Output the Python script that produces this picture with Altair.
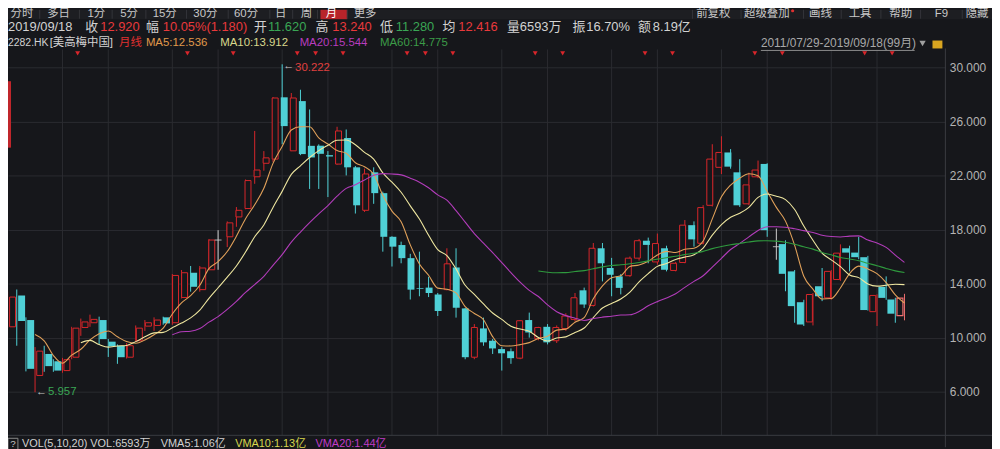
import altair as alt
import pandas as pd

BG = "#16171b"
RED = "#d9262b"
CYAN = "#4fd0d6"
GRAY = "#cfcfcf"
PINK = "#f07070"
GRID = "#2a2c31"
WHITE = "#d2d2d2"
TRED = "#e8393b"
TGREEN = "#3aa655"
FONT = "Liberation Sans, Noto Sans CJK SC"

# ---------------- data (monthly candles, 2282.HK) ----------------
opens = [10.8, 13.12, 11.3, 7.2, 8.79, 8.25, 7.56, 8.55, 10.75, 11.1,
         11.3, 9.7, 9.4, 8.55, 9.77, 10.85, 10.9, 11.5, 11.1, 12.97,
         14.8, 13.55, 15.02, 17.22, 17.46, 18.93, 19.55, 21.9, 22.9, 23.21,
         27.78, 23.82, 27.5, 24.19, 24.2, 23.5, 22.84, 24.77, 22.6, 19.42,
         22.23, 20.69, 17.46, 16.85, 15.88, 13.65, 13.7, 13.19, 13.55, 15.19,
         12.16, 8.55, 10.68, 9.77, 9.15, 8.99, 8.48, 11.3, 9.94, 10.8,
         9.77, 10.67, 11.35, 13.5, 12.38, 16.61, 15.15, 14.53, 14.58, 15.88,
         17.17, 15.6, 16.61, 14.97, 15.56, 18.32, 16.98, 19.79, 22.6, 23.7,
         22.23, 19.9, 21.9, 22.85, 16.73, 16.92, 14.9, 12.62, 11.16, 13.8,
         12.94, 14.3, 16.61, 16.29, 15.95, 11.92, 13.75, 12.82, 11.62]
highs = [13.4, 13.56, 11.5, 9.3, 9.4, 8.4, 8.5, 10.8, 11.41, 11.7,
         11.55, 9.9, 9.5, 9.6, 10.9, 11.3, 11.5, 11.55, 14.7, 15.0,
         15.3, 15.3, 17.3, 17.95, 18.6, 19.66, 21.7, 25.29, 23.8, 27.8,
         30.222, 28.1, 28.34, 26.88, 24.3, 23.8, 25.6, 25.4, 22.7, 22.5,
         22.6, 20.8, 17.5, 17.1, 16.2, 16.36, 14.5, 13.3, 16.61, 16.61,
         12.2, 11.0, 11.48, 9.9, 9.3, 9.2, 11.3, 11.85, 10.8, 11.0,
         10.9, 11.8, 13.3, 13.7, 17.0, 17.0, 15.9, 14.7, 16.0, 17.3,
         17.4, 17.7, 16.8, 15.6, 18.7, 18.6, 19.8, 24.31, 24.9, 23.95,
         23.2, 22.2, 23.1, 22.9, 18.07, 17.2, 15.0, 12.8, 13.3, 15.15,
         15.0, 16.9, 16.8, 17.46, 16.05, 13.2, 14.53, 12.95, 13.24]
lows = [10.7, 9.4, 7.5, 5.957, 7.47, 7.47, 7.4, 8.4, 10.13, 10.8,
        9.52, 8.57, 8.06, 8.45, 9.7, 10.5, 10.5, 10.95, 10.95, 12.9,
        13.4, 13.4, 15.0, 15.02, 16.7, 18.2, 19.5, 21.38, 22.35, 23.0,
        24.31, 23.8, 23.5, 21.0, 21.0, 20.4, 22.8, 22.0, 19.18, 19.3,
        19.9, 16.36, 15.26, 15.5, 12.82, 13.06, 13.0, 11.6, 13.5, 11.48,
        8.4, 8.4, 9.4, 8.79, 7.56, 8.06, 8.4, 10.0, 9.8, 9.5,
        9.6, 10.5, 11.2, 12.2, 12.3, 14.16, 13.06, 13.2, 14.5, 15.7,
        15.5, 15.4, 14.9, 14.9, 15.5, 16.73, 16.9, 19.7, 22.1, 22.5,
        19.67, 19.8, 21.8, 17.46, 15.76, 13.43, 11.1, 10.86, 10.9, 12.7,
        12.8, 14.2, 14.9, 15.8, 12.0, 10.86, 12.8, 11.1, 11.28]
closes = [13.0, 11.23, 7.69, 9.0, 7.89, 7.56, 8.37, 10.7, 11.16, 11.35,
          9.89, 9.35, 8.55, 9.4, 10.7, 11.1, 11.3, 11.05, 14.6, 14.8,
          13.76, 15.15, 17.22, 17.22, 18.49, 19.42, 21.62, 22.4, 23.3, 27.73,
          25.65, 27.73, 23.58, 23.33, 23.6, 23.4, 25.29, 22.6, 19.79, 22.11,
          20.69, 17.46, 16.73, 15.88, 13.55, 13.6, 13.3, 11.97, 15.46, 12.21,
          8.55, 10.75, 9.65, 9.2, 8.84, 8.48, 11.25, 10.38, 10.75, 9.65,
          10.75, 11.6, 12.95, 12.45, 16.61, 15.5, 14.65, 13.68, 15.88, 17.17,
          16.86, 16.96, 15.02, 15.5, 18.32, 17.27, 19.62, 23.21, 23.7, 22.65,
          19.79, 21.3, 22.4, 17.95, 16.73, 14.72, 12.33, 10.97, 13.19, 13.06,
          14.9, 16.25, 16.29, 15.95, 12.04, 13.12, 12.94, 11.77, 12.92]
grid_months = [6, 11, 18, 23, 30, 35, 42, 47, 54, 59, 66, 71, 78, 83, 90, 95]
event_months = [7, 19, 24, 31, 33, 36, 43, 45, 48, 57, 60, 69, 72, 81, 84, 93, 96]
y_ticks = [6, 10, 14, 18, 22, 26, 30]
ma_periods = [5, 10, 20, 60]
ma_colors = ["#e1a15a", "#efe7a0", "#b23cba", "#2f9a3e"]

n = len(closes)
kinds = []
for k in range(n):
    if k == n - 1:
        kinds.append("cur")
    elif closes[k] > opens[k]:
        kinds.append("up")
    elif closes[k] < opens[k]:
        kinds.append("down")
    else:
        kinds.append("flat")
df = pd.DataFrame({"i": list(range(n)), "o": opens, "h": highs, "l": lows,
                   "c": closes, "kind": kinds})

xs = alt.Scale(domain=[0.043, 102.47], zero=False, nice=False)
ys = alt.Scale(domain=[1.89, 34.257], zero=False, nice=False)
X = alt.X("i:Q", scale=xs, axis=None)

def Y(f, axis=None):
    return alt.Y(f, scale=ys, axis=axis)

yaxis = alt.Axis(orient="right", values=y_ticks, format=".3f", labelColor="#b4b4b4",
                 labelFont="Liberation Sans", labelFontSize=12, labelPadding=4,
                 ticks=False, domain=False, grid=True, gridColor=GRID, gridWidth=1,
                 title=None, labelAlign="left", labelBaseline="middle", labelOverlap=False)

base = alt.Chart(df)
one = pd.DataFrame({"a": [0]})

vgrid = alt.Chart(pd.DataFrame({"i": grid_months})).mark_rule(color=GRID, strokeWidth=1).encode(
    x=X, y=alt.value(40), y2=alt.value(429))

wicks = base.mark_rule(strokeWidth=1).encode(
    x=X, y=Y("l:Q", yaxis), y2="h:Q",
    color=alt.Color("kind:N", scale=alt.Scale(domain=["up", "down", "flat", "cur"],
                                               range=[RED, CYAN, GRAY, PINK]), legend=None))
up = base.transform_filter(alt.datum.kind == "up").mark_bar(
    size=6, fill=BG, stroke=RED, strokeWidth=1).encode(x=X, y=Y("o:Q"), y2="c:Q")
down = base.transform_filter(alt.datum.kind == "down").mark_bar(
    size=7, color=CYAN).encode(x=X, y=Y("o:Q"), y2="c:Q")
flat = base.transform_filter(alt.datum.kind == "flat").mark_tick(
    orient="horizontal", size=7, thickness=1.2, color=GRAY).encode(x=X, y=Y("o:Q"))
cur = base.transform_filter(alt.datum.kind == "cur").mark_bar(
    size=6, fill=BG, stroke=PINK, strokeWidth=1.2).encode(x=X, y=Y("o:Q"), y2="c:Q")

def ma_line(p, color):
    return base.transform_window(
        ma="mean(c)", cnt="count()", frame=[-(p - 1), 0], sort=[alt.SortField("i")]
    ).transform_filter(alt.datum.cnt >= p - 1).mark_line(
        color=color, strokeWidth=1.1, interpolate="monotone").encode(x=X, y=Y("ma:Q"))

mas = [ma_line(p, c) for p, c in zip(ma_periods, ma_colors)]

hi_i = highs.index(max(highs))
lo_i = lows.index(min(lows))
ann = pd.DataFrame({"i": [hi_i, lo_i], "p": [highs[hi_i], lows[lo_i]],
                    "label": [f"{highs[hi_i]:.3f}", f"{lows[lo_i]:.3f}"],
                    "col": ["#e0403f", TGREEN]})
arrow_hi = alt.Chart(ann.iloc[[0]]).mark_text(text="←", align="left", dx=1, dy=2, color="#c8c8c8",
                                              fontSize=11, font=FONT).encode(x=X, y=Y("p:Q"))
label_hi = alt.Chart(ann.iloc[[0]]).mark_text(align="left", dx=13, dy=4, fontSize=11.5, font=FONT).encode(
    x=X, y=Y("p:Q"), text="label:N", color=alt.Color("col:N", scale=None))
arrow_lo = alt.Chart(ann.iloc[[1]]).mark_text(text="←", align="left", dx=1, dy=0, color="#c8c8c8",
                                              fontSize=11, font=FONT).encode(x=X, y=Y("p:Q"))
label_lo = alt.Chart(ann.iloc[[1]]).mark_text(align="left", dx=13, dy=0, fontSize=11.5, font=FONT).encode(
    x=X, y=Y("p:Q"), text="label:N", color=alt.Color("col:N", scale=None))

markers = alt.Chart(pd.DataFrame({"i": event_months})).mark_point(
    shape="triangle-down", filled=True, size=24, color=RED, opacity=1, xOffset=6).encode(
    x=X, y=alt.value(44))

# ---------------- UI chrome (page coords -> chart coords: minus 8) ----------------
def rect(x1, x2, y1, y2, color, **kw):
    return alt.Chart(one).mark_rect(color=color, **kw).encode(
        x=alt.value(x1), x2=alt.value(x2), y=alt.value(y1), y2=alt.value(y2))

def rule(x1, x2, y1, y2, color, w=1):
    return alt.Chart(one).mark_rule(color=color, strokeWidth=w).encode(
        x=alt.value(x1), x2=alt.value(x2), y=alt.value(y1), y2=alt.value(y2))

toolbar_left = ["分时", "多日", "1分", "5分", "15分", "30分", "60分", "日", "周", "月", "更多"]
toolbar_left_x = [22, 59, 97, 130, 166, 207, 248, 283, 309, 334, 368]
toolbar_right = ["前复权", "超级叠加", "画线", "工具", "帮助", "F9", "隐藏"]
toolbar_right_x = [719, 773, 827, 867, 908, 949, 985]
seps = [40, 80, 113, 147, 188, 230, 272, 295, 320, 350, 698, 747, 810, 848, 888, 928, 970]

MA5C, MA10C, MA20C, MA60C = "#e09a4c", "#d8d88c", "#b83dbf", "#3c9c48"
row2 = [("2019/09/18", 8, WHITE), ("收", 86, WHITE), ("12.920", 101, TRED), ("幅", 147, WHITE),
        ("10.05%(1.180)", 164, TRED), ("开", 256, WHITE), ("11.620", 270, TGREEN), ("高", 318, WHITE),
        ("13.240", 335, TRED), ("低", 383, WHITE), ("11.280", 399, TGREEN), ("均", 446, WHITE),
        ("12.416", 462, TRED), ("量", 511, WHITE), ("6593万", 524, WHITE), ("振", 577, WHITE),
        ("16.70%", 591, WHITE), ("额", 643, WHITE), ("8.19亿", 658, WHITE)]
row3 = [("[美高梅中国]", 50, WHITE), ("月线", 120, "#e03030"),
        ("MA5:12.536", 147, MA5C), ("MA10:13.912", 222, MA10C), ("MA20:15.544", 302, MA20C),
        ("MA60:14.775", 383, MA60C)]
vol_row = [("VOL(5,10,20)", 22, WHITE), ("VOL:6593万", 91, WHITE), ("VMA5:1.06亿", 162, WHITE),
           ("VMA10:1.13亿", 237, "#d8d84e"), ("VMA20:1.44亿", 318, "#c13cc8")]

texts_c = []
for t, x in zip(toolbar_left, toolbar_left_x):
    texts_c.append((t, x - 8, 4, "#c8c8c8" if t != "月" else "#ffffff", 11.5))
for t, x in zip(toolbar_right, toolbar_right_x):
    texts_c.append((t, x - 8, 4, "#c8c8c8", 11.5))
texts_l = []
for t, x, c in row2:
    texts_l.append((t, x - 8, 17, c, 13))
texts_l.append(("2282.HK", 0, 34, WHITE, 10.5))
for t, x, c in row3:
    texts_l.append((t, x - 8, 34, c, 11.5))
texts_l.append(("2011/07/29-2019/09/18(99月)", 759, 34, "#a8a8a8", 12))
for t, x, c in vol_row:
    texts_l.append((t, x - 8, 438, c, 11))
texts_c.append(("?", 5, 438, "#c8c8c8", 10))

def text_layer(rows, align):
    d = pd.DataFrame(rows, columns=["t", "x", "y", "c", "s"])
    return alt.Chart(d).mark_text(align=align, baseline="middle", font=FONT).encode(
        x=alt.X("x:Q", scale=None), y=alt.Y("y:Q", scale=None), text="t:N",
        color=alt.Color("c:N", scale=None), size=alt.Size("s:Q", scale=None))

sep_layer = alt.Chart(pd.DataFrame({"x": [s - 8 for s in seps]})).mark_rule(
    color="#34353a", strokeWidth=1).encode(x=alt.X("x:Q", scale=None), y=alt.value(0), y2=alt.value(9))

ui = [
    rect(0, 992, 0, 9.5, "#1d1e22"),
    rect(315, 342, 0, 9.5, "#b8242a"),
    sep_layer,
    alt.Chart(one).mark_circle(color="#e03030", size=10, opacity=1).encode(
        x=alt.value(791), y=alt.value(1)),
    rect(0, 3, 72, 139, "#c0262b"),
    rule(759, 914, 41, 41, "#8a8a8a"),
    alt.Chart(one).mark_point(shape="triangle-down", filled=True, size=40, color="#a0a0a0",
                              opacity=1).encode(x=alt.value(922), y=alt.value(34)),
    rect(932, 942, 31, 39, "#d9a520"),
    rule(0, 992, 429, 429, "#3a3c41"),
    rule(945, 945, 39, 441, "#3a3c41"),
    rect(0, 10, 432, 444, BG, stroke="#8a8a8a", strokeWidth=1),
    text_layer(texts_c, "center"),
    text_layer(texts_l, "left"),
]

chart = alt.layer(
    vgrid, wicks, up, down, flat, cur, *mas, arrow_hi, label_hi, arrow_lo, label_lo, markers, *ui
).resolve_scale(
    x="independent", y="independent", color="independent", size="independent"
).properties(
    width=945, height=441,
    padding={"left": 0, "right": 47, "top": 0, "bottom": 0},
    autosize=alt.AutoSizeParams(type="none"),
    background=BG,
).configure_view(stroke=None)

chart.save("out.html", embed_options={"renderer": "svg", "actions": False})
